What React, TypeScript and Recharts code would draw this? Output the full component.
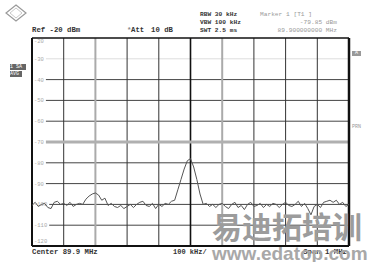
import { LineChart, Line, XAxis, YAxis, ReferenceLine } from 'recharts';

// trace points, 10 kHz apart, 89.4 .. 90.4 MHz (index 0..100)
const traceDbm = [
  -100.5, -99, -101, -100, -99.5, -101.5, -102, -99, -98.5, -100,
  -99.5, -100.5, -99, -101, -100, -99.5, -100, -97.5, -96, -95,
  -94.5, -95.5, -98, -97, -100.5, -99.5, -101, -101.5, -100.5, -102,
  -101, -100, -101.5, -100, -99, -98.5, -100.5, -101, -99.5, -102,
  -100, -101, -99.5, -100, -98.5, -98, -93, -88, -83, -79,
  -78, -82, -88, -95, -100, -99.5, -101, -100, -101.5, -100,
  -99.5, -101, -102, -100, -99, -101.5, -100.5, -102.5, -100, -99,
  -101, -100.5, -99.5, -101.5, -100, -101, -99.5, -100, -101.5, -100,
  -99, -100.5, -101, -100, -98.5, -101, -99.5, -102, -105, -101,
  -100, -101.5, -99, -98.5, -98, -99, -98, -100, -99, -101, -100,
];

const xDivs = [10, 30, 40, 50, 70, 80, 90];
const markerDivs = [20, 60];
const levels = [-30, -40, -50, -60, -70, -80, -90, -100, -110, -120];
const levelLabels = ['-20', '-30', '-40', '-50', '-60', '-70', '-80', '-90', '-100', '-110', '-120'];
const displayLine = -70;

const data = traceDbm.map((v, i) => ({ i, v }));

const mono = '"Liberation Mono", "DejaVu Sans Mono", monospace';

function Txt({ x, y, size = 6.2, color = '#333', children, right, bold = true }: any) {
  return (
    <div
      style={{
        position: 'absolute',
        left: right ? undefined : x,
        right: right ? 368 - x : undefined,
        top: y,
        fontFamily: mono,
        fontSize: size,
        lineHeight: 1,
        color,
        fontWeight: bold ? 'bold' : 'normal',
        whiteSpace: 'pre',
      }}
    >
      {children}
    </div>
  );
}

const GridLabel = ({ viewBox, text, shift }: any) => {
  const y = viewBox.y + shift;
  return (
    <g>
      <rect x={viewBox.x + 1} y={y - 3} width={text.length * 3.3 + 3} height={6} fill="#fff" />
      <text x={viewBox.x + 2} y={y + 2} fontSize={5.5} fontFamily={mono} fill="#aaa">
        {text}
      </text>
    </g>
  );
};

export default function App() {
  return (
    <div style={{ position: 'absolute', left: 0, top: 0, width: 368, height: 262, background: '#fff', overflow: 'hidden' }}>
      <LineChart width={368} height={262} data={data} margin={{ top: 38, right: 19, bottom: 16, left: 32 }}>
        <XAxis dataKey="i" type="number" domain={[0, 100]} hide />
        <YAxis type="number" domain={[-120, -20]} hide />
        {levels.map((l) => (
          <ReferenceLine
            key={'h' + l}
            y={l}
            stroke={l === -30 ? '#ddd' : '#444'}
            strokeWidth={1}
            ifOverflow="extendDomain"
          />
        ))}
        {xDivs.map((d) => (
          <ReferenceLine key={'v' + d} x={d} stroke={d === 50 ? '#111' : '#333'} strokeWidth={d === 50 ? 1.6 : 1} />
        ))}
        {markerDivs.map((d) => (
          <ReferenceLine key={'m' + d} x={d} stroke="#aaa" strokeWidth={2} />
        ))}
        <ReferenceLine y={displayLine} stroke="#b0b0b0" strokeWidth={3} />
        {levelLabels.map((t, k) => (
          <ReferenceLine
            key={'lab' + t}
            y={-20 - k * 10}
            stroke="none"
            label={(p: any) => <GridLabel {...p} text={t} shift={k === 0 ? 3 : k === 10 ? -5 : 0} />}
          />
        ))}
        <ReferenceLine x={0} stroke="#111" strokeWidth={2} />
        <ReferenceLine x={100} stroke="#111" strokeWidth={2.5} />
        <ReferenceLine y={-20} stroke="#111" strokeWidth={1.5} />
        <ReferenceLine y={-120} stroke="#111" strokeWidth={2} />
        <Line
          dataKey="v"
          type="linear"
          stroke="#555"
          strokeWidth={1}
          dot={false}
          isAnimationActive={false}
        />
      </LineChart>

      {/* logo */}
      <svg style={{ position: 'absolute', left: 5, top: 4 }} width={22} height={18}>
        <polygon points="11,1 21,9 11,17 1,9" fill="none" stroke="#999" strokeWidth={1.2} />
        <polygon points="11,4 17,9 11,14 5,9" fill="none" stroke="#bbb" strokeWidth={0.8} />
      </svg>

      <Txt x={32} y={27} size={7.3}>Ref -20 dBm</Txt>
      <Txt x={127} y={27} size={7.3} color="#888">*</Txt>
      <Txt x={131} y={27} size={7.3}>Att</Txt>
      <Txt x={151} y={27} size={7.3}>10 dB</Txt>

      <Txt x={200} y={12}>RBW 30 kHz</Txt>
      <Txt x={200} y={20}>VBW 100 kHz</Txt>
      <Txt x={200} y={28}>SWT 2.5 ms</Txt>

      <Txt x={260} y={12} color="#999" bold={false}>Marker 1 [T1 ]</Txt>
      <Txt x={337} y={20} right color="#999" bold={false}>-79.85 dBm</Txt>
      <Txt x={337} y={28} right color="#999" bold={false}>89.900000000 MHz</Txt>

      <div style={{ position: 'absolute', left: 10, top: 64, width: 16, height: 6, background: '#666', color: '#fff', fontFamily: mono, fontSize: 5, lineHeight: '6px', whiteSpace: 'pre' }}>1 SA</div>
      <div style={{ position: 'absolute', left: 10, top: 71, width: 12, height: 6, background: '#666', color: '#fff', fontFamily: mono, fontSize: 5, lineHeight: '6px' }}>AVG</div>

      <div style={{ position: 'absolute', left: 352, top: 51, width: 9, height: 5, background: '#999', color: '#fff', fontFamily: mono, fontSize: 5, lineHeight: '5px', textAlign: 'center' }}>A</div>
      <Txt x={352} y={125} size={5} color="#999" bold={false}>PRN</Txt>

      <Txt x={32} y={249} size={7.3}>Center 89.9 MHz</Txt>
      <Txt x={173} y={249} size={7}>100 kHz/</Txt>
      <Txt x={347} y={249} right size={7.3}>Span 1 MHz</Txt>

      <div style={{ position: 'absolute', left: 212, top: 210, fontFamily: '"Noto Sans CJK SC"', fontWeight: 'bold', fontSize: 30, lineHeight: 1, color: '#9c9c9c', whiteSpace: 'pre' }}>
        易迪拓培训
      </div>
      <div style={{ position: 'absolute', left: 212, top: 244, fontFamily: '"Liberation Sans", Arial, sans-serif', fontWeight: 'bold', fontSize: 19, lineHeight: 1, color: '#a8a8a8', whiteSpace: 'pre' }}>
        www.edatop.com
      </div>
    </div>
  );
}
